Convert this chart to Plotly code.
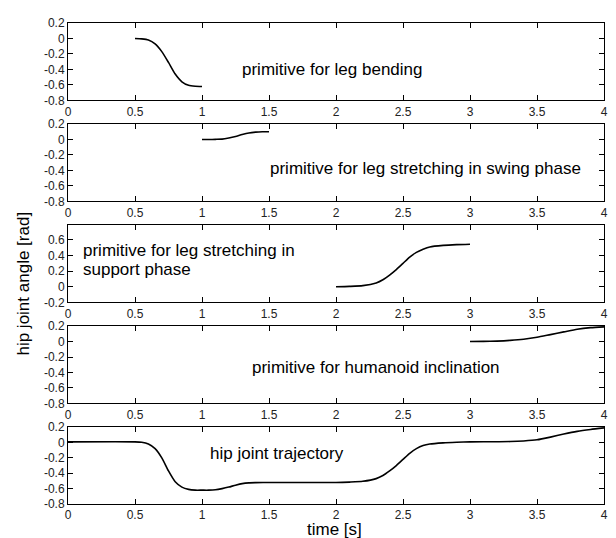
import plotly.graph_objects as go

# ---- data ----
t_bend = [0.5, 0.55, 0.6, 0.65, 0.7, 0.75, 0.8, 0.85, 0.9, 0.95, 1.0]
v_bend = [0.0, -0.005, -0.02, -0.07, -0.17, -0.31, -0.46, -0.56, -0.605, -0.617, -0.62]

t_swing = [1.0, 1.05, 1.1, 1.15, 1.2, 1.25, 1.3, 1.35, 1.4, 1.45, 1.5]
v_swing = [0.0, 0.0, 0.002, 0.005, 0.02, 0.04, 0.065, 0.085, 0.095, 0.1, 0.1]

t_support = [2.0, 2.1, 2.2, 2.3, 2.35, 2.4, 2.45, 2.5, 2.55, 2.6, 2.65, 2.7, 2.8, 2.9, 3.0]
v_support = [0.0, 0.005, 0.015, 0.05, 0.09, 0.15, 0.22, 0.30, 0.38, 0.44, 0.48, 0.51, 0.53, 0.54, 0.545]

t_incl = [3.0, 3.1, 3.2, 3.3, 3.4, 3.5, 3.6, 3.7, 3.8, 3.9, 4.0]
v_incl = [0.0, 0.002, 0.006, 0.015, 0.03, 0.055, 0.09, 0.125, 0.16, 0.18, 0.19]

t_traj = [0.0, 0.5, 0.55, 0.6, 0.65, 0.7, 0.75, 0.8, 0.85, 0.9, 0.95, 1.0, 1.05, 1.1,
          1.15, 1.2, 1.25, 1.3, 1.35, 1.4, 1.5, 2.0, 2.1, 2.2, 2.3, 2.35, 2.4, 2.45,
          2.5, 2.55, 2.6, 2.65, 2.7, 2.8, 2.9, 3.0, 3.2, 3.3, 3.4, 3.5, 3.6, 3.7,
          3.8, 3.9, 4.0]
v_traj = [0.008, 0.008, 0.003, -0.02, -0.08, -0.2, -0.37, -0.51, -0.58, -0.61, -0.62,
          -0.62, -0.62, -0.615, -0.6, -0.58, -0.555, -0.535, -0.525, -0.522, -0.52,
          -0.52, -0.515, -0.505, -0.47, -0.43, -0.37, -0.3, -0.22, -0.14, -0.08,
          -0.04, -0.02, -0.005, 0.003, 0.008, 0.01, 0.012, 0.02, 0.035, 0.07, 0.11,
          0.145, 0.17, 0.19]

x_ticks = [0, 0.5, 1, 1.5, 2, 2.5, 3, 3.5, 4]
x_tick_labels = ["0", "0.5", "1", "1.5", "2", "2.5", "3", "3.5", "4"]
y_ticks_main = [-0.8, -0.6, -0.4, -0.2, 0, 0.2]
y_labels_main = ["-0.8", "-0.6", "-0.4", "-0.2", "0", "0.2"]
y_ticks_sup = [-0.2, 0, 0.2, 0.4, 0.6]
y_labels_sup = ["-0.2", "0", "0.2", "0.4", "0.6"]

labels = [["primitive for leg bending"],
          ["primitive for leg stretching in swing phase"],
          ["primitive for leg stretching in", "support phase"],
          ["primitive for humanoid inclination"],
          ["hip joint trajectory"]]

series = [(t_bend, v_bend), (t_swing, v_swing), (t_support, v_support),
          (t_incl, v_incl), (t_traj, v_traj)]

# ---- layout geometry (page body has an 8px margin) ----
OFF = 8
W, H = 616 - OFF, 538 - OFF
ml, mr, mt, mb = 68 - OFF, 8, 16 - OFF, 34
pw = W - ml - mr
ph = H - mt - mb
panel_h = 78.5
step = 102.5


def px_x(xw):  # window px -> paper x
    return (xw - (ml + OFF)) / pw


def px_y(yw):  # window px -> paper y
    return (mt + OFF + ph - yw) / ph


fig = go.Figure()
FONT = "Liberation Sans, Arial, sans-serif"
tickfont = dict(family=FONT, size=12, color="#222")
textfont = dict(family=FONT, size=17, color="black")

label_pos = [[(1.97, -0.40, "center")], [(2.67, -0.37, "center")],
             [(0.10, 0.46, "left"), (0.10, 0.225, "left")],
             [(2.30, -0.33, "center")], [(1.56, -0.145, "center")]]

for i, (t, v) in enumerate(series):
    k = "" if i == 0 else str(i + 1)
    fig.add_trace(go.Scatter(x=t, y=v, mode="lines",
                             line=dict(color="black", width=1.6, shape="spline", smoothing=0.6),
                             xaxis="x" + k, yaxis="y" + k, showlegend=False,
                             hoverinfo="skip"))
    top_w = 16 + step * i
    bot_w = min(top_w + panel_h, 504)
    dom = [max(0.0, px_y(bot_w)), min(1.0, px_y(top_w))]
    if i == 2:
        yr, yt, yl = [-0.2, 0.79], y_ticks_sup, y_labels_sup
    else:
        yr, yt, yl = [-0.8, 0.2], y_ticks_main, y_labels_main
    axis_common = dict(showline=True, linecolor="black", linewidth=1, mirror="ticks",
                       ticks="inside", ticklen=5, tickcolor="black", tickwidth=1,
                       showgrid=False, zeroline=False, tickfont=tickfont, fixedrange=True)
    fig.layout["xaxis" + k] = dict(domain=[0, 1], range=[0, 4], tickvals=x_ticks,
                                   ticktext=x_tick_labels, anchor="y" + k, **axis_common)
    fig.layout["yaxis" + k] = dict(domain=dom, range=yr, tickvals=yt, ticktext=yl,
                                   anchor="x" + k, **axis_common)
    for (lx, ly, anc), txt in zip(label_pos[i], labels[i]):
        fig.add_annotation(x=lx, y=ly, xref="x" + k, yref="y" + k, text=txt,
                           showarrow=False, xanchor=anc, yanchor="middle", align="left",
                           font=textfont)

fig.add_annotation(x=px_x(23), y=px_y(280), xref="paper", yref="paper",
                   text="hip joint angle [rad]", textangle=-90, showarrow=False,
                   xanchor="center", yanchor="middle",
                   font=dict(family=FONT, size=17, color="black"))
fig.add_annotation(x=px_x(336), y=px_y(530), xref="paper", yref="paper",
                   text="time [s]", showarrow=False, xanchor="center", yanchor="middle",
                   font=dict(family=FONT, size=17, color="black"))

fig.update_layout(width=W, height=H, margin=dict(l=ml, r=mr, t=mt, b=mb, pad=0),
                  paper_bgcolor="white", plot_bgcolor="white")

fig.write_html("out.html")
